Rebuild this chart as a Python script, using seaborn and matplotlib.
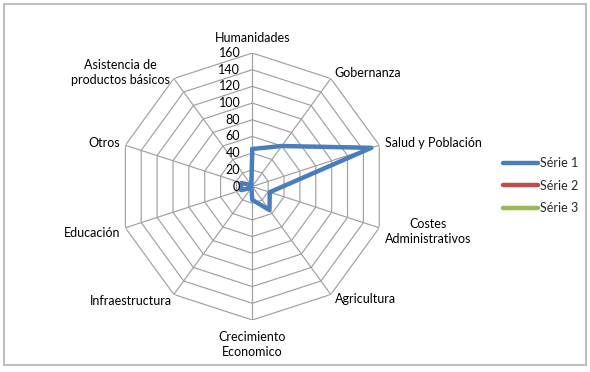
import numpy as np
import pandas as pd
import matplotlib
matplotlib.use("Agg")
import matplotlib.pyplot as plt
import matplotlib.transforms as mtrans
from matplotlib.lines import Line2D
from matplotlib.patches import Rectangle
import seaborn as sns

# data
categories = ["Humanidades", "Gobernanza", "Salud y Población", "Costes\nAdministrativos",
              "Agricultura", "Crecimiento\nEconomico", "Infraestructura", "Educación",
              "Otros", "Asistencia de\nproductos básicos"]
serie1 = [45, 60, 150, 22, 35, 16, 2, 14, 14, 2]
serie2 = [np.nan] * 10
serie3 = [np.nan] * 10
series_names = ["Série 1", "Série 2", "Série 3"]
rticks = [0, 20, 40, 60, 80, 100, 120, 140, 160]

colors = ["#4A7EBB", "#BE4B48", "#98B954"]

sns.set_style("white")
plt.rcParams["font.family"] = ["Lato", "DejaVu Sans"]
plt.rcParams["font.size"] = 9

fig = plt.figure(figsize=(5.9, 3.72), dpi=100)
ax = fig.add_axes([0.2014, 0.1398, 0.4525, 0.7177], projection="polar")
ax.set_theta_zero_location("N")
ax.set_theta_direction(-1)
ax.set_ylim(0, 160)
ax.grid(False)
ax.set_xticks([])
ax.set_yticks([])
ax.spines["polar"].set_visible(False)
ax.patch.set_alpha(0)

n = len(categories)
angles = np.linspace(0, 2 * np.pi, n, endpoint=False)
closed = np.append(angles, angles[0])

# polygon grid like excel
for r in rticks[1:]:
    ax.plot(closed, [r] * (n + 1), color="#A0A0A0", lw=0.85, zorder=1)
for a in angles:
    ax.plot([a, a], [0, 160], color="#A0A0A0", lw=0.85, zorder=1)

# data lines
rows = []
for name, vals in zip(series_names, [serie1, serie2, serie3]):
    vals = list(vals) + [vals[0]]
    for i, (a, v) in enumerate(zip(closed, vals)):
        rows.append({"serie": name, "idx": i, "angle": a, "value": v})
df = pd.DataFrame(rows).dropna()
sns.lineplot(data=df, x="angle", y="value", hue="serie", palette=dict(zip(series_names, colors)),
             sort=False, estimator=None, units="serie", lw=3.2, ax=ax, legend=False, zorder=3)
ax.set_xlabel("")
ax.set_ylabel("")
ax.set_ylim(0, 160)

# radial tick labels left of top spoke
tr = mtrans.offset_copy(ax.transData, fig=fig, x=-12, y=0, units="dots")
for r in rticks:
    ax.text(0, r, str(r), transform=tr, ha="right", va="center", color="black")

# category labels: (dx, dy, ha) in pixels from the outer vertex
label_pos = [(0, 15, "center"), (4, 6, "left"), (6, 2, "left"), (6, -4, "left"),
             (4, -5, "left"), (0, -25, "center"), (-2, -7, "right"), (-5, -5, "right"),
             (-5, 2, "right"), (-4, 6, "right")]
for a, lab, (dx, dy, ha) in zip(angles, categories, label_pos):
    t = mtrans.offset_copy(ax.transData, fig=fig, x=dx, y=dy, units="dots")
    ax.text(a, 160, lab, transform=t, ha=ha, va="center", multialignment="center",
            color="black", linespacing=1.3)

handles = [Line2D([0], [0], color=c, lw=3.2, solid_capstyle="round") for c in colors]
fig.legend(handles, series_names, loc="center left", bbox_to_anchor=(497 / 590, 0.501),
           frameon=False, borderpad=0, handlelength=2.8, handletextpad=0.15,
           labelspacing=0.85)

fig.patches.append(Rectangle((4 / 590, 1 - 365 / 372), 582 / 590, 361 / 372,
                             transform=fig.transFigure, fill=False,
                             edgecolor="#BFBFBF", lw=1.5))

fig.savefig("out.png", dpi=100)
